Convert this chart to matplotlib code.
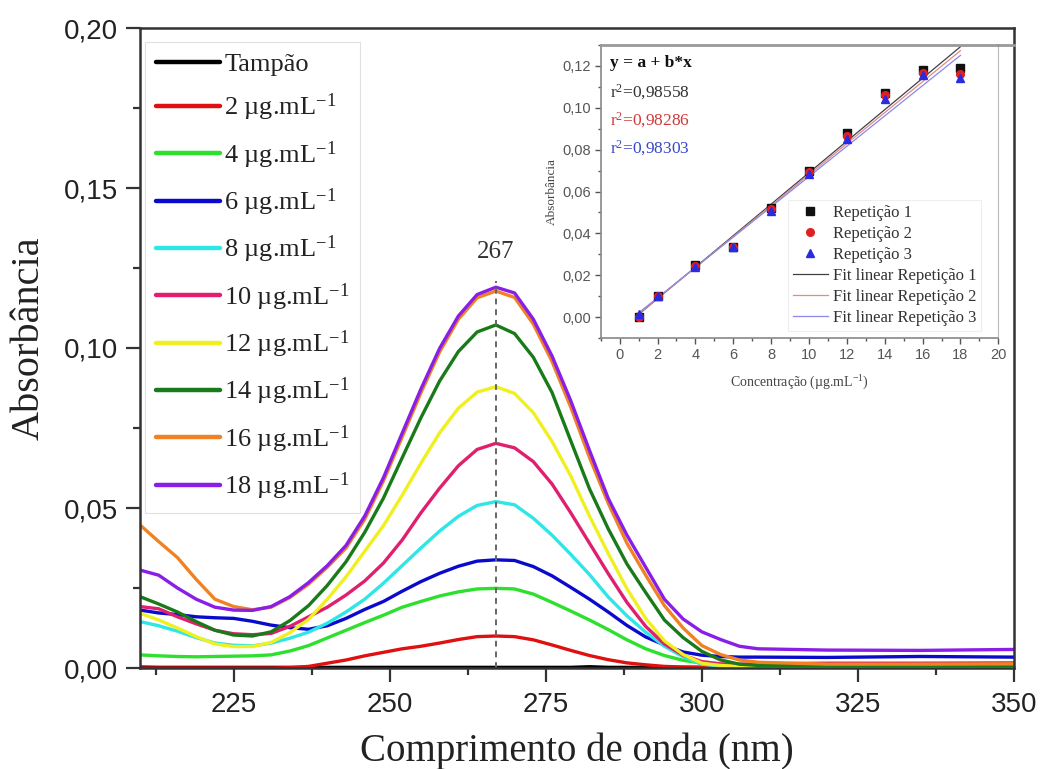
import numpy as np
import matplotlib
matplotlib.use("Agg")
import matplotlib.pyplot as plt
from matplotlib.ticker import MultipleLocator, FuncFormatter
from matplotlib.lines import Line2D

# ---------------- UV spectra (absorbance vs wavelength) ----------------
wavelength = [210, 213, 216, 219, 222, 225, 228, 231, 234, 237, 240, 243, 246,
              249, 252, 255, 258, 261, 264, 267, 270, 273, 276, 279, 282, 285,
              288, 291, 294, 297, 300, 303, 306, 309, 320, 335, 350]

tampao = [0.0003, 0.0002, 0.0002, 0.0002, 0.0002, 0.0002, 0.0002, 0.0002, 0.0002,
          0.0002, 0.0002, 0.0002, 0.0002, 0.0002, 0.0002, 0.0002, 0.0002, 0.0002,
          0.0002, 0.0002, 0.0002, 0.0002, 0.0002, 0.0002, 0.0004, 0.0002, 0.0002,
          0.0002, 0.0002, 0.0002, 0.0002, 0.0002, 0.0002, 0.0002, 0.0002, 0.0002, 0.0002]
conc_2 = [0.0000, 0.0000, 0.0000, 0.0000, 0.0000, 0.0000, 0.0000, 0.0000, 0.0001,
          0.0005, 0.0015, 0.0025, 0.0038, 0.0049, 0.0060, 0.0068, 0.0078, 0.0089,
          0.0098, 0.0100, 0.0098, 0.0088, 0.0072, 0.0055, 0.0039, 0.0026, 0.0016,
          0.0010, 0.0005, 0.0003, 0.0002, 0.0002, 0.0002, 0.0002, 0.0002, 0.0002, 0.0002]
conc_4 = [0.0041, 0.0038, 0.0036, 0.0035, 0.0036, 0.0037, 0.0038, 0.0041, 0.0053,
          0.0070, 0.0094, 0.0118, 0.0142, 0.0165, 0.0190, 0.0208, 0.0225, 0.0238,
          0.0247, 0.0249, 0.0247, 0.0231, 0.0205, 0.0178, 0.0150, 0.0120, 0.0088,
          0.0060, 0.0039, 0.0024, 0.0015, 0.0010, 0.0008, 0.0008, 0.0008, 0.0008, 0.0008]
conc_6 = [0.0181, 0.0172, 0.0167, 0.0160, 0.0157, 0.0155, 0.0146, 0.0134, 0.0126,
          0.0121, 0.0132, 0.0155, 0.0183, 0.0208, 0.0240, 0.0270, 0.0296, 0.0318,
          0.0334, 0.0338, 0.0336, 0.0317, 0.0288, 0.0252, 0.0215, 0.0175, 0.0133,
          0.0097, 0.0072, 0.0050, 0.0040, 0.0036, 0.0034, 0.0034, 0.0033, 0.0036, 0.0034]
conc_8 = [0.0145, 0.0132, 0.0115, 0.0095, 0.0078, 0.0071, 0.0069, 0.0078, 0.0093,
          0.0112, 0.0140, 0.0175, 0.0215, 0.0265, 0.0320, 0.0375, 0.0428, 0.0474,
          0.0508, 0.0520, 0.0510, 0.0468, 0.0415, 0.0355, 0.0292, 0.0222, 0.0163,
          0.0112, 0.0068, 0.0035, 0.0012, 0.0006, 0.0005, 0.0005, 0.0005, 0.0005, 0.0005]
conc_10 = [0.0192, 0.0185, 0.0160, 0.0138, 0.0118, 0.0107, 0.0104, 0.0108, 0.0130,
           0.0160, 0.0190, 0.0228, 0.0272, 0.0328, 0.0400, 0.0485, 0.0562, 0.0632,
           0.0683, 0.0702, 0.0688, 0.0645, 0.0575, 0.0485, 0.0390, 0.0295, 0.0205,
           0.0130, 0.0075, 0.0040, 0.0020, 0.0013, 0.0012, 0.0013, 0.0015, 0.0015, 0.0016]
conc_12 = [0.0171, 0.0150, 0.0125, 0.0098, 0.0075, 0.0067, 0.0067, 0.0080, 0.0110,
           0.0152, 0.0215, 0.0285, 0.0365, 0.0445, 0.0540, 0.0640, 0.0735, 0.0812,
           0.0862, 0.0879, 0.0858, 0.0798, 0.0708, 0.0600, 0.0475, 0.0358, 0.0248,
           0.0155, 0.0085, 0.0042, 0.0015, 0.0008, 0.0005, 0.0005, 0.0005, 0.0005, 0.0005]
conc_14 = [0.0223, 0.0200, 0.0175, 0.0145, 0.0118, 0.0103, 0.0100, 0.0113, 0.0148,
           0.0195, 0.0258, 0.0332, 0.0424, 0.0531, 0.0657, 0.0782, 0.0897, 0.0989,
           0.1050, 0.1072, 0.1045, 0.0971, 0.0861, 0.0710, 0.0560, 0.0435, 0.0325,
           0.0236, 0.0150, 0.0095, 0.0052, 0.0025, 0.0012, 0.0008, 0.0008, 0.0008, 0.0008]
conc_16 = [0.0447, 0.0395, 0.0345, 0.0277, 0.0215, 0.0192, 0.0182, 0.0190, 0.0220,
           0.0262, 0.0315, 0.0375, 0.0465, 0.0585, 0.0722, 0.0860, 0.0988, 0.1090,
           0.1157, 0.1178, 0.1158, 0.1075, 0.0958, 0.0815, 0.0658, 0.0515, 0.0390,
           0.0290, 0.0195, 0.0125, 0.0070, 0.0042, 0.0025, 0.0018, 0.0012, 0.0012, 0.0013]
conc_18 = [0.0306, 0.0290, 0.0250, 0.0215, 0.0190, 0.0181, 0.0180, 0.0192, 0.0223,
           0.0267, 0.0320, 0.0383, 0.0475, 0.0595, 0.0734, 0.0872, 0.0999, 0.1100,
           0.1167, 0.1190, 0.1172, 0.1090, 0.0975, 0.0835, 0.0680, 0.0530, 0.0415,
           0.0315, 0.0215, 0.0153, 0.0113, 0.0089, 0.0068, 0.0060, 0.0056, 0.0055, 0.0058]

spectra = [tampao, conc_2, conc_4, conc_6, conc_8, conc_10, conc_12, conc_14, conc_16, conc_18]
unit = " \u00b5g.mL$^{-1}$"
series_labels = ["Tamp\u00e3o"] + [f"{c}{unit}" for c in (2, 4, 6, 8, 10, 12, 14, 16, 18)]
series_colors = ["#000000", "#e01010", "#2ee02e", "#0a0acc", "#2ee6e6",
                 "#e0206e", "#f0f020", "#197a19", "#f08224", "#8a1ee6"]
peak_nm = 267

# ---------------- Calibration curve ----------------
concentration = [1, 2, 4, 6, 8, 10, 12, 14, 16, 18]
rep_1 = [0.0002, 0.0099, 0.0248, 0.0335, 0.0522, 0.0698, 0.0878, 0.1071, 0.1180, 0.1188]
rep_2 = [0.0000, 0.0099, 0.0246, 0.0333, 0.0515, 0.0694, 0.0865, 0.1062, 0.1167, 0.1160]
rep_3 = [0.0015, 0.0100, 0.0240, 0.0335, 0.0505, 0.0682, 0.0849, 0.1041, 0.1156, 0.1140]
r2_text = ["0,98558", "0,98286", "0,98303"]

# ---------------- Style ----------------
plt.rcParams["font.family"] = ["Liberation Serif", "DejaVu Serif"]
plt.rcParams["mathtext.fontset"] = "custom"
plt.rcParams["mathtext.rm"] = "Liberation Serif"
plt.rcParams["mathtext.it"] = "Liberation Serif:italic"
plt.rcParams["mathtext.bf"] = "Liberation Serif:bold"
plt.rcParams["axes.unicode_minus"] = False

comma = FuncFormatter(lambda v, p: f"{v:.2f}".replace(".", ","))

fig = plt.figure(figsize=(10.4, 7.69), dpi=100)
fig.patch.set_facecolor("white")
ax = fig.add_axes([140 / 1040, 101 / 769, 874 / 1040, 640 / 769])

for label, vals, color in zip(series_labels, spectra, series_colors):
    ax.plot(wavelength, vals, color=color, lw=2.4, label=label,
            solid_joinstyle="round", solid_capstyle="round")

top = max(conc_18)
ax.vlines(peak_nm, 0, top + 0.002, colors="#666666", linestyles=(0, (3, 2.5)), lw=1.4)
ax.text(peak_nm, top + 0.011, str(peak_nm), ha="center", va="center",
        fontsize=18, color="#333333")

ax.set_xlim(210, 350)
ax.set_ylim(0, 0.20)
ax.xaxis.set_major_locator(MultipleLocator(25))
ax.xaxis.set_minor_locator(MultipleLocator(12.5))
ax.yaxis.set_major_locator(MultipleLocator(0.05))
ax.yaxis.set_minor_locator(MultipleLocator(0.025))
ax.yaxis.set_major_formatter(comma)
ax.tick_params(which="both", direction="out", width=1.6, color="#333333",
               top=False, right=False)
ax.tick_params(which="major", length=10, labelsize=20, labelcolor="#222222",
               labelfontfamily="Liberation Sans")
ax.tick_params(axis="x", which="major", pad=7)
ax.tick_params(axis="y", which="major", pad=6)
ax.tick_params(which="minor", length=5)
for s in ax.spines.values():
    s.set_linewidth(1.8)
    s.set_color("#333333")

ax.set_xlabel("Comprimento de onda (nm)", fontsize=28, color="#222222")
ax.xaxis.set_label_coords(0.5, -0.1)
ax.set_ylabel("Absorb\u00e2ncia", fontsize=29, color="#222222")
ax.yaxis.set_label_coords(-0.106, 0.516)

leg = ax.legend(loc="upper left", bbox_to_anchor=(5 / 874, 1 - 14 / 640),
                borderaxespad=0, fontsize=19, handlelength=2.45, handletextpad=0.15,
                labelspacing=0.6, borderpad=0.4, frameon=True, fancybox=False,
                edgecolor="#e0e0e0", framealpha=1)
leg.get_frame().set_linewidth(0.8)
for line in leg.get_lines():
    line.set_linewidth(3.2)
for t in leg.get_texts():
    t.set_color("#222222")

# ---------------- Inset: calibration ----------------
ins = fig.add_axes([600.7 / 1040, 431 / 769, 397.6 / 1040, 293 / 769])
ins.set_facecolor("white")

fit_colors = ["#404040", "#e08a8a", "#8a8ae6"]
reps = [rep_1, rep_2, rep_3]
fit_handles = []
xs = np.array([concentration[0], concentration[-1]], dtype=float)
for i, (r, fc) in enumerate(zip(reps, fit_colors)):
    coef = np.polyfit(concentration, r, 1)
    h, = ins.plot(xs, np.polyval(coef, xs), color=fc, lw=0.9, zorder=2,
                  label=f"Fit linear Repeti\u00e7\u00e3o {i + 1}")
    fit_handles.append(h)

m1, = ins.plot(concentration, rep_1, "s", color="#111111", ms=5.5, zorder=3,
               label="Repeti\u00e7\u00e3o 1")
m2, = ins.plot(concentration, rep_2, "o", color="#e02020", ms=5.5, zorder=4,
               label="Repeti\u00e7\u00e3o 2")
m3, = ins.plot(concentration, rep_3, "^", color="#2a2ae0", ms=6, zorder=5,
               label="Repeti\u00e7\u00e3o 3")

ins.set_xlim(-1, 20)
ins.set_ylim(-0.01, 0.13)
ins.xaxis.set_major_locator(MultipleLocator(2))
ins.xaxis.set_minor_locator(MultipleLocator(1))
ins.yaxis.set_major_locator(MultipleLocator(0.02))
ins.yaxis.set_minor_locator(MultipleLocator(0.01))
ins.yaxis.set_major_formatter(comma)
ins.tick_params(which="both", direction="out", color="#555555", width=1,
                top=False, right=False)
ins.tick_params(which="major", length=4, labelsize=10.5, labelcolor="#555555",
                labelfontfamily="Liberation Sans", pad=3)
ins.tick_params(which="minor", length=2.5)
for side, s in ins.spines.items():
    s.set_color("#888888")
    s.set_linewidth(1.2)
ins.spines["top"].set_linewidth(2)
ins.spines["top"].set_color("#999999")
ins.spines["right"].set_color("#bbbbbb")
ins.spines["right"].set_linewidth(0.8)
fig.add_artist(Line2D([998.3 / 1040, 1014 / 1040], [724 / 769, 724 / 769],
                      transform=fig.transFigure, color="#999999", lw=2))

ins.set_xlabel("Concentra\u00e7\u00e3o (\u00b5g.mL$^{-1}$)", fontsize=10, color="#444444",
               labelpad=9)
ins.set_ylabel("Absorb\u00e2ncia", fontsize=9.5, color="#444444", labelpad=3)

ins.text(0.023, 0.938, "y = a + b*x", transform=ins.transAxes, fontsize=12.5,
         fontweight="bold", color="#111111", va="center", ha="left")
for i, (txt, col) in enumerate(zip(r2_text, ["#333333", "#d03a3a", "#3a48c8"])):
    ins.text(0.023, 0.84 - i * 0.096, f"r$^2$={txt}", transform=ins.transAxes,
             fontsize=12.5, color=col, va="center", ha="left")

ileg = ins.legend(handles=[m1, m2, m3] + fit_handles, loc="upper left",
                  bbox_to_anchor=(0.47, 0.47), borderaxespad=0, fontsize=12,
                  handlelength=2.1, handletextpad=0.3, labelspacing=0.3,
                  borderpad=0.3, frameon=True, fancybox=False,
                  edgecolor="#eeeeee", framealpha=1)
ileg.get_frame().set_linewidth(0.8)
for t in ileg.get_texts():
    t.set_color("#333333")

fig.savefig("out.png", dpi=100, facecolor="white")
